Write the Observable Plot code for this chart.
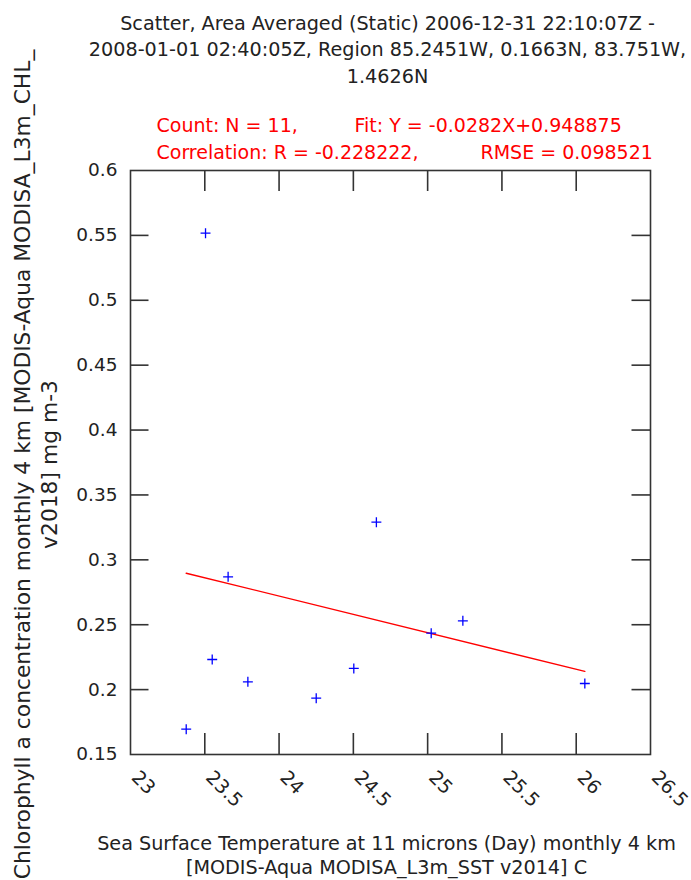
<!DOCTYPE html>
<html>
<head>
<meta charset="utf-8">
<script src="https://cdn.jsdelivr.net/npm/d3@7"></script>
<script src="https://cdn.jsdelivr.net/npm/@observablehq/plot@0.6"></script>
<style>
  html, body { margin: 0; padding: 0; background: white; }
</style>
</head>
<body>
<div id="chart"></div>
<script>
// ---- data ----
const sst = [23.375, 23.55, 23.657, 23.79, 24.25, 24.503, 24.655, 25.024, 25.237, 26.058, 23.505];
const chl = [0.1695, 0.2232, 0.2869, 0.206, 0.1934, 0.2163, 0.329, 0.2435, 0.253, 0.2047, 0.5517];
const xTicks = [23, 23.5, 24, 24.5, 25, 25.5, 26, 26.5];
const yTicks = [0.15, 0.2, 0.25, 0.3, 0.35, 0.4, 0.45, 0.5, 0.55, 0.6];
const fitSlope = -0.0282;
const fitIntercept = 0.948875;
const titleLines = [
  "Scatter, Area Averaged (Static) 2006-12-31 22:10:07Z -",
  "2008-01-01 02:40:05Z, Region 85.2451W, 0.1663N, 83.751W,",
  "1.4626N"
];
const statsLine1 = ["Count: N = 11,", "Fit: Y = -0.0282X+0.948875"];
const statsLine2 = ["Correlation: R = -0.228222,", "RMSE = 0.098521"];
const yLabelLines = ["Chlorophyll a concentration monthly 4 km [MODIS-Aqua MODISA_L3m_CHL_", "v2018] mg m-3"];
const xLabelLines = ["Sea Surface Temperature at 11 microns (Day) monthly 4 km", "[MODIS-Aqua MODISA_L3m_SST v2014] C"];

const points = sst.map((x, i) => ({x, y: chl[i]}));
const fitLine = d3.extent(sst).map(x => ({x, y: fitSlope * x + fitIntercept}));

// ---- layout ----
const W = 691, H = 880, mL = 130, mR = 41, mT = 170, mB = 126;
const plotW = W - mL - mR, plotH = H - mT - mB;
const ink = "#333";
const red = "#ff0000";
const font = "DejaVu Sans";

const xInner = xTicks.slice(1, -1);
const yInner = yTicks.slice(1, -1);

const chart = Plot.plot({
  width: W,
  height: H,
  marginLeft: mL,
  marginRight: mR,
  marginTop: mT,
  marginBottom: mB,
  style: {fontFamily: font, background: "white", color: "#222"},
  x: {domain: [23, 26.5]},
  y: {domain: [0.15, 0.6]},
  marks: [
    Plot.frame({stroke: ink, strokeWidth: 1.6}),
    // inward ticks
    Plot.ruleX(xInner, {x: d => d, insetTop: plotH - 21, stroke: ink, strokeWidth: 1.6}),
    Plot.ruleX(xInner, {x: d => d, insetBottom: plotH - 21, stroke: ink, strokeWidth: 1.6}),
    Plot.ruleY(yInner, {y: d => d, insetRight: plotW - 18.5, stroke: ink, strokeWidth: 1.6}),
    Plot.ruleY(yInner, {y: d => d, insetLeft: plotW - 18.5, stroke: ink, strokeWidth: 1.6}),
    // axes labels
    Plot.axisY(yTicks, {tickSize: 0, tickPadding: 13, fontSize: 18.5, label: null, tickFormat: d => String(d), fill: "#222"}),
    Plot.axisX(xTicks, {tickSize: 0, tickPadding: 24, tickRotate: 45, textAnchor: "start", lineAnchor: "bottom",
      fontSize: 19, label: null, tickFormat: d => String(d), fill: "#222"}),
    // fit line
    Plot.line(fitLine, {x: "x", y: "y", stroke: red, strokeWidth: 1.4}),
    // points
    Plot.dot(points, {x: "x", y: "y", symbol: "plus", r: 3.3, stroke: "#0000ff", strokeWidth: 1.3, fill: "none"}),
    // title
    Plot.text([titleLines.join("\n")], {text: d => d, frameAnchor: "top", dy: 82 - mT, dx: -3, lineAnchor: "bottom",
      lineHeight: 1.37, fontSize: 19.2, fill: "#222"}),
    // stats
    Plot.text([statsLine1[0]], {text: d => d, frameAnchor: "top-left", textAnchor: "start", lineAnchor: "bottom",
      dx: 26, dy: 131.7 - mT, fontSize: 19, fill: red}),
    Plot.text([statsLine1[1]], {text: d => d, frameAnchor: "top-left", textAnchor: "start", lineAnchor: "bottom",
      dx: 224, dy: 131.7 - mT, fontSize: 19, fill: red}),
    Plot.text([statsLine2[0]], {text: d => d, frameAnchor: "top-left", textAnchor: "start", lineAnchor: "bottom",
      dx: 26, dy: 158.3 - mT, fontSize: 19, fill: red}),
    Plot.text([statsLine2[1]], {text: d => d, frameAnchor: "top-left", textAnchor: "start", lineAnchor: "bottom",
      dx: 350, dy: 158.3 - mT, fontSize: 19, fill: red}),
    // y label
    Plot.text([yLabelLines.join("\n")], {text: d => d, frameAnchor: "left", rotate: -90, lineAnchor: "bottom",
      textAnchor: "middle", dx: 56 - mL, dy: 2, lineHeight: 1.23, fontSize: 21.8, fill: "#222"}),
    // x label
    Plot.text([xLabelLines.join("\n")], {text: d => d, frameAnchor: "bottom", lineAnchor: "bottom",
      textAnchor: "middle", dx: -4, dy: 873 - (H - mB), lineHeight: 1.25, fontSize: 19.2, fill: "#222"})
  ]
});
document.getElementById("chart").appendChild(chart);
</script>
</body>
</html>
